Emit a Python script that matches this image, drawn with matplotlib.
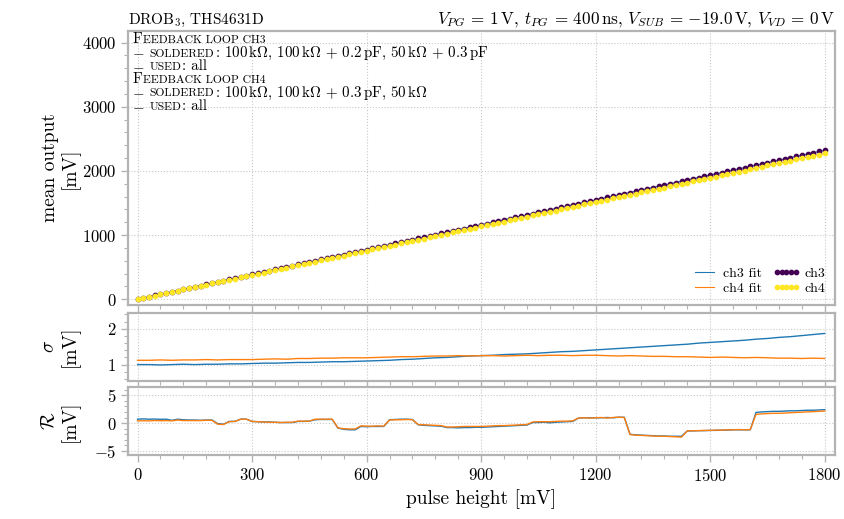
import numpy as np
import matplotlib
matplotlib.use('Agg')
import matplotlib.pyplot as plt
from matplotlib.ticker import MultipleLocator
from matplotlib.lines import Line2D

plt.rcParams['font.family'] = 'serif'
plt.rcParams['font.serif'] = ['cmr10']
plt.rcParams['mathtext.fontset'] = 'cm'
plt.rcParams['axes.formatter.use_mathtext'] = True

# pulse heights (mV), 15 mV steps
pulse_height = np.arange(0, 1801, 15)

# linear fit parameters (slope, offset in mV)
fit_ch3 = (1.290, 0.0)
fit_ch4 = (1.262, 0.0)

# residuals data - fit (mV), one per pulse height
res_ch3 = [0.70, 0.75, 0.70, 0.72, 0.68, 0.70, 0.50, 0.70, 0.60, 0.55,
           0.55, 0.50, 0.55, 0.55, -0.10, -0.20, 0.30, 0.30, 0.70, 0.70,
           0.30, 0.25, 0.20, 0.20, 0.15, 0.10, 0.10, 0.10, 0.30, 0.30,
           0.35, 0.60, 0.65, 0.65, 0.65, -0.90, -1.10, -1.20, -1.20, -0.60,
           -0.65, -0.60, -0.60, -0.60, 0.60, 0.65, 0.70, 0.70, 0.65, -0.30,
           -0.40, -0.45, -0.50, -0.55, -0.80, -0.80, -0.85, -0.80, -0.80, -0.75,
           -0.75, -0.70, -0.65, -0.60, -0.55, -0.50, -0.45, -0.40, -0.35, 0.10,
           0.10, 0.15, 0.05, 0.15, 0.20, 0.25, 0.30, 0.90, 0.95, 0.95,
           0.95, 0.95, 1.00, 0.95, 1.05, 1.05, -2.00, -2.10, -2.15, -2.20,
           -2.25, -2.30, -2.30, -2.35, -2.35, -2.35, -1.40, -1.40, -1.35, -1.35,
           -1.30, -1.30, -1.25, -1.25, -1.20, -1.20, -1.20, -1.20, 1.90, 2.00,
           2.05, 2.10, 2.10, 2.15, 2.20, 2.20, 2.25, 2.30, 2.30, 2.35,
           2.40]
res_ch4 = [0.40, 0.42, 0.40, 0.45, 0.42, 0.45, 0.40, 0.55, 0.45, 0.45,
           0.45, 0.45, 0.50, 0.50, -0.20, -0.25, 0.25, 0.30, 0.70, 0.70,
           0.30, 0.25, 0.20, 0.15, 0.15, 0.10, 0.15, 0.15, 0.35, 0.35,
           0.35, 0.70, 0.70, 0.70, 0.70, -0.85, -1.00, -1.05, -1.05, -0.50,
           -0.55, -0.55, -0.50, -0.55, 0.55, 0.60, 0.60, 0.65, 0.60, -0.25,
           -0.30, -0.35, -0.40, -0.45, -0.70, -0.70, -0.65, -0.60, -0.60, -0.60,
           -0.60, -0.55, -0.50, -0.45, -0.45, -0.40, -0.35, -0.30, -0.25, 0.20,
           0.25, 0.25, 0.25, 0.30, 0.35, 0.35, 0.40, 0.90, 0.95, 0.90,
           0.95, 1.00, 0.90, 1.00, 1.05, 1.00, -2.05, -2.15, -2.20, -2.25,
           -2.30, -2.35, -2.35, -2.40, -2.45, -2.50, -1.40, -1.35, -1.35, -1.30,
           -1.30, -1.25, -1.25, -1.20, -1.20, -1.15, -1.20, -1.15, 1.55, 1.65,
           1.70, 1.75, 1.75, 1.80, 1.85, 1.90, 1.95, 2.00, 2.05, 2.10,
           2.15]

# noise sigma (mV), every 30 mV
sigma_height = np.arange(0, 1801, 30)
sigma_ch3 = [1.00, 1.00, 0.99, 1.00, 1.01, 1.00, 1.01, 1.01, 1.02, 1.02,
             1.03, 1.04, 1.04, 1.05, 1.06, 1.06, 1.07, 1.08, 1.08, 1.09,
             1.10, 1.11, 1.12, 1.14, 1.15, 1.17, 1.19, 1.20, 1.22, 1.24,
             1.25, 1.26, 1.28, 1.29, 1.30, 1.32, 1.34, 1.36, 1.37, 1.39,
             1.41, 1.43, 1.45, 1.47, 1.49, 1.51, 1.53, 1.55, 1.57, 1.60,
             1.62, 1.64, 1.66, 1.68, 1.71, 1.73, 1.76, 1.78, 1.81, 1.84,
             1.87]
sigma_ch4 = [1.12, 1.12, 1.13, 1.12, 1.13, 1.13, 1.14, 1.13, 1.14, 1.14,
             1.14, 1.15, 1.16, 1.15, 1.17, 1.17, 1.18, 1.18, 1.19, 1.19,
             1.19, 1.20, 1.21, 1.22, 1.22, 1.23, 1.24, 1.24, 1.25, 1.24,
             1.25, 1.25, 1.24, 1.25, 1.26, 1.25, 1.26, 1.26, 1.25, 1.26,
             1.26, 1.25, 1.24, 1.25, 1.24, 1.23, 1.23, 1.22, 1.22, 1.21,
             1.20, 1.21, 1.20, 1.19, 1.20, 1.19, 1.18, 1.18, 1.17, 1.18,
             1.17]

fitline3 = fit_ch3[0] * pulse_height + fit_ch3[1]
fitline4 = fit_ch4[0] * pulse_height + fit_ch4[1]
mean_ch3 = fitline3 + np.array(res_ch3)
mean_ch4 = fitline4 + np.array(res_ch4)

c3 = '#440154'
c4 = '#fde725'
spine_col = '#b3b3b3'

fig = plt.figure(figsize=(8.45, 5.19), dpi=100)
ax = fig.add_axes([0.1515, 0.4123, 0.8367, 0.528])
ax_s = fig.add_axes([0.1515, 0.2665, 0.8367, 0.131], sharex=ax)
ax_r = fig.add_axes([0.1515, 0.1233, 0.8367, 0.1305], sharex=ax)

ax.plot(pulse_height, fitline3, color='tab:blue', lw=0.8, zorder=2)
ax.plot(pulse_height, fitline4, color='tab:orange', lw=0.8, zorder=2)
ax.plot(pulse_height, mean_ch3, 'o', color=c3, ms=3.1, zorder=3)
ax.plot(pulse_height, mean_ch4, 'o', color=c4, ms=3.1, zorder=4)

ax_s.plot(sigma_height, sigma_ch3, color='tab:blue', lw=1)
ax_s.plot(sigma_height, sigma_ch4, color='tab:orange', lw=1)

ax_r.plot(pulse_height, res_ch3, color='tab:blue', lw=1)
ax_r.plot(pulse_height, res_ch4, color='tab:orange', lw=1)

ax.set_xlim(-25, 1827)
ax.set_ylim(-90, 4180)
ax_s.set_ylim(0.55, 2.45)
ax_r.set_ylim(-5.7, 6.4)

ax.xaxis.set_major_locator(MultipleLocator(300))
ax.xaxis.set_minor_locator(MultipleLocator(60))
ax.yaxis.set_major_locator(MultipleLocator(1000))
ax.yaxis.set_minor_locator(MultipleLocator(200))
ax_s.yaxis.set_major_locator(MultipleLocator(1))
ax_s.yaxis.set_minor_locator(MultipleLocator(0.2))
ax_r.yaxis.set_major_locator(MultipleLocator(5))
ax_r.yaxis.set_minor_locator(MultipleLocator(1))

for a in (ax, ax_s, ax_r):
    for sp in a.spines.values():
        sp.set_color(spine_col)
        sp.set_linewidth(1.6)
    a.tick_params(which='both', direction='out', color=spine_col, labelsize=12)
    a.tick_params(which='major', length=5, width=1)
    a.tick_params(which='minor', length=3, width=0.8)
    a.grid(True, which='major', linestyle=':', color='#c8c8c8', lw=0.8)
    a.set_axisbelow(True)
for a in (ax, ax_s):
    a.tick_params(labelbottom=False)

ax.set_ylabel('mean output\n[mV]', fontsize=14, linespacing=1.1)
ax_s.set_ylabel('$\\sigma$\n[mV]', fontsize=14, linespacing=1.1)
ax_r.set_ylabel('$\\mathcal{R}$\n[mV]', fontsize=14, linespacing=1.1)
for a in (ax, ax_s, ax_r):
    a.yaxis.set_label_coords(-0.068, 0.5)
ax_r.set_xlabel('pulse height [mV]', fontsize=14)

ax.set_title('DROB$_3$, THS4631D', loc='left', fontsize=11, pad=5)
ax.set_title('$V_{PG}$ = 1$\\,$V, $t_{PG}$ = 400$\\,$ns, $V_{SUB}$ = $-$19.0$\\,$V, $V_{VD}$ = 0$\\,$V',
             loc='right', fontsize=12.3, pad=5)

# info text with fake small caps: (text, size, gap before in points)
big, small = 10.8, 8.4
lines = [
    [('F', big, 0), ('EEDBACK LOOP CH3', small, 0.4)],
    [('$-$', big, 0), ('SOLDERED', small, 3.5),
     (': 100$\\,$k$\\Omega$, 100$\\,$k$\\Omega$ + 0.2$\\,$pF, 50$\\,$k$\\Omega$ + 0.3$\\,$pF', big, 0.6)],
    [('$-$', big, 0), ('USED', small, 3.5), (': all', big, 0.6)],
    [('F', big, 0), ('EEDBACK LOOP CH4', small, 0.4)],
    [('$-$', big, 0), ('SOLDERED', small, 3.5),
     (': 100$\\,$k$\\Omega$, 100$\\,$k$\\Omega$ + 0.3$\\,$pF, 50$\\,$k$\\Omega$', big, 0.6)],
    [('$-$', big, 0), ('USED', small, 3.5), (': all', big, 0.6)],
]
y0 = 0.955
dy = 0.0485
for i, parts in enumerate(lines):
    yb = y0 - i * dy
    t = ax.text(0.006, yb, parts[0][0], fontsize=parts[0][1],
                transform=ax.transAxes, ha='left', va='baseline')
    for s, size, gap in parts[1:]:
        # x: right edge of previous piece, y: common baseline
        t = ax.annotate(s, xy=(1, yb), xycoords=(t, ax.transAxes),
                        xytext=(gap, 0), textcoords='offset points',
                        fontsize=size, ha='left', va='baseline')

handles = [Line2D([], [], color='tab:blue', lw=0.8),
           Line2D([], [], color='tab:orange', lw=0.8),
           Line2D([], [], color=c3, marker='o', ls='none', ms=3.1),
           Line2D([], [], color=c4, marker='o', ls='none', ms=3.1)]
ax.legend(handles, ['ch3 fit', 'ch4 fit', 'ch3', 'ch4'], loc='lower right',
          ncol=2, frameon=False, fontsize=10, numpoints=5, handlelength=2.0,
          columnspacing=0.8, handletextpad=0.3, labelspacing=0.2,
          borderaxespad=0.3)

fig.savefig('out.png', dpi=100)
